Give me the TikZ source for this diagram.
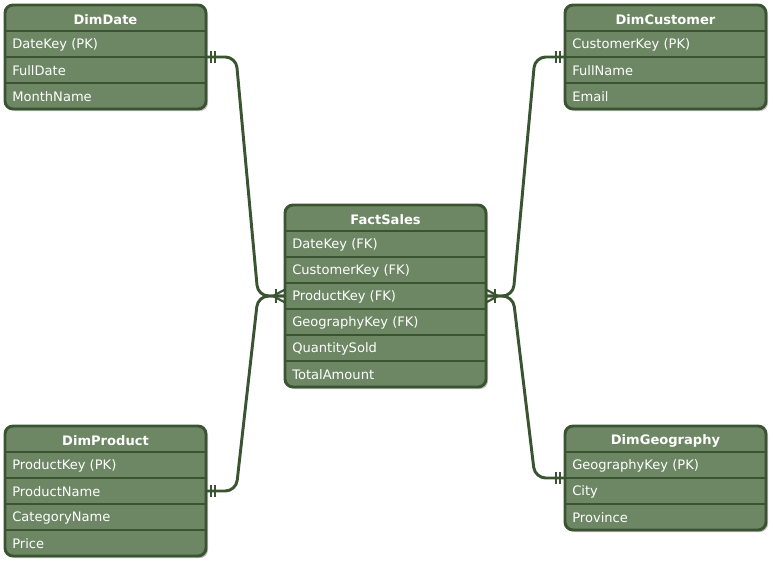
\documentclass[tikz,border=0pt]{standalone}
\usepackage{fontspec}
\setmainfont{DejaVu Sans}
\usetikzlibrary{shadows}
\definecolor{tfill}{HTML}{6D8764}
\definecolor{tline}{HTML}{3A5431}
\tikzset{
  tbl/.style={draw=tline, fill=tfill, line width=2.2pt, rounded corners=6pt,
    drop shadow={shadow xshift=1.5pt, shadow yshift=-1.5pt, opacity=0.25, fill=black}},
  sep/.style={draw=tline, line width=2.2pt},
  hdr/.style={text=white, font=\fontsize{9.8}{12}\selectfont\bfseries, anchor=center, inner sep=0pt},
  fld/.style={text=white, font=\fontsize{9.8}{12}\selectfont, anchor=west, inner sep=0pt},
  rel/.style={draw=tline, line width=2.2pt, rounded corners=8pt},
  bar/.style={draw=tline, line width=1.6pt},
}
\begin{document}
\begin{tikzpicture}[x=0.75pt,y=-0.75pt]
\useasboundingbox (0,0) rectangle (773,564);

% ---------- DimDate ----------
\path[tbl] (5,5) rectangle (206,109);
\foreach \yy in {31,57,83} \draw[sep] (5,\yy) -- (206,\yy);
\node[hdr] (dd) at (105.5,19.5) {DimDate};
\node[fld] (dd1) at (12,45) {DateKey (PK)};
\node[fld] (dd2) at (12,71) {FullDate};
\node[fld] (dd3) at (12,97) {MonthName};
\coordinate (ddR) at (206,57);

% ---------- DimCustomer ----------
\path[tbl] (565,5) rectangle (766,109);
\foreach \yy in {31,57,83} \draw[sep] (565,\yy) -- (766,\yy);
\node[hdr] (dc) at (665.5,19.5) {DimCustomer};
\node[fld] (dc1) at (572,45) {CustomerKey (PK)};
\node[fld] (dc2) at (572,71) {FullName};
\node[fld] (dc3) at (572,97) {Email};
\coordinate (dcL) at (565,57);

% ---------- FactSales ----------
\path[tbl] (285,205) rectangle (486,387);
\foreach \yy in {231,257,283,309,335,361} \draw[sep] (285,\yy) -- (486,\yy);
\node[hdr] (fs) at (385.5,219.5) {FactSales};
\node[fld] (fs1) at (292,245) {DateKey (FK)};
\node[fld] (fs2) at (292,271) {CustomerKey (FK)};
\node[fld] (fs3) at (292,297) {ProductKey (FK)};
\node[fld] (fs4) at (292,323) {GeographyKey (FK)};
\node[fld] (fs5) at (292,349) {QuantitySold};
\node[fld] (fs6) at (292,375) {TotalAmount};
\coordinate (fsL) at (285,296);
\coordinate (fsR) at (486,296);

% ---------- DimProduct ----------
\path[tbl] (5,426) rectangle (206,556);
\foreach \yy in {452,478,504,530} \draw[sep] (5,\yy) -- (206,\yy);
\node[hdr] (dp) at (105.5,440.5) {DimProduct};
\node[fld] (dp1) at (12,466) {ProductKey (PK)};
\node[fld] (dp2) at (12,492) {ProductName};
\node[fld] (dp3) at (12,518) {CategoryName};
\node[fld] (dp4) at (12,544) {Price};
\coordinate (dpR) at (206,491);

% ---------- DimGeography ----------
\path[tbl] (565,426) rectangle (766,530);
\foreach \yy in {452,478,504} \draw[sep] (565,\yy) -- (766,\yy);
\node[hdr] (dg) at (665.5,440.5) {DimGeography};
\node[fld] (dg1) at (572,466) {GeographyKey (PK)};
\node[fld] (dg2) at (572,492) {City};
\node[fld] (dg3) at (572,518) {Province};
\coordinate (dgL) at (565,478);

% ---------- relations ----------
\draw[rel] (ddR) -- (236,57) -- (258,296) -- (fsL);
\draw[rel] (dpR) -- (236,491) -- (258,296) -- (fsL);
\draw[rel] (dcL) -- (535,57) -- (513,296) -- (fsR);
\draw[rel] (dgL) -- (535,478) -- (513,296) -- (fsR);

% mandatory-one bars at dimension ends
\foreach \xx in {211,215} \draw[bar] (\xx,51) -- (\xx,63);
\foreach \xx in {211,215} \draw[bar] (\xx,485) -- (\xx,497);
\foreach \xx in {556,560} \draw[bar] (\xx,51) -- (\xx,63);
\foreach \xx in {556,560} \draw[bar] (\xx,472) -- (\xx,484);

% one-to-many at fact ends
\draw[bar] (276,289) -- (276,303);
\draw[bar] (273,296) -- (285,289.5);
\draw[bar] (273,296) -- (285,302.5);
\draw[bar] (495,289) -- (495,303);
\draw[bar] (498,296) -- (486,289.5);
\draw[bar] (498,296) -- (486,302.5);
\end{tikzpicture}
\end{document}
